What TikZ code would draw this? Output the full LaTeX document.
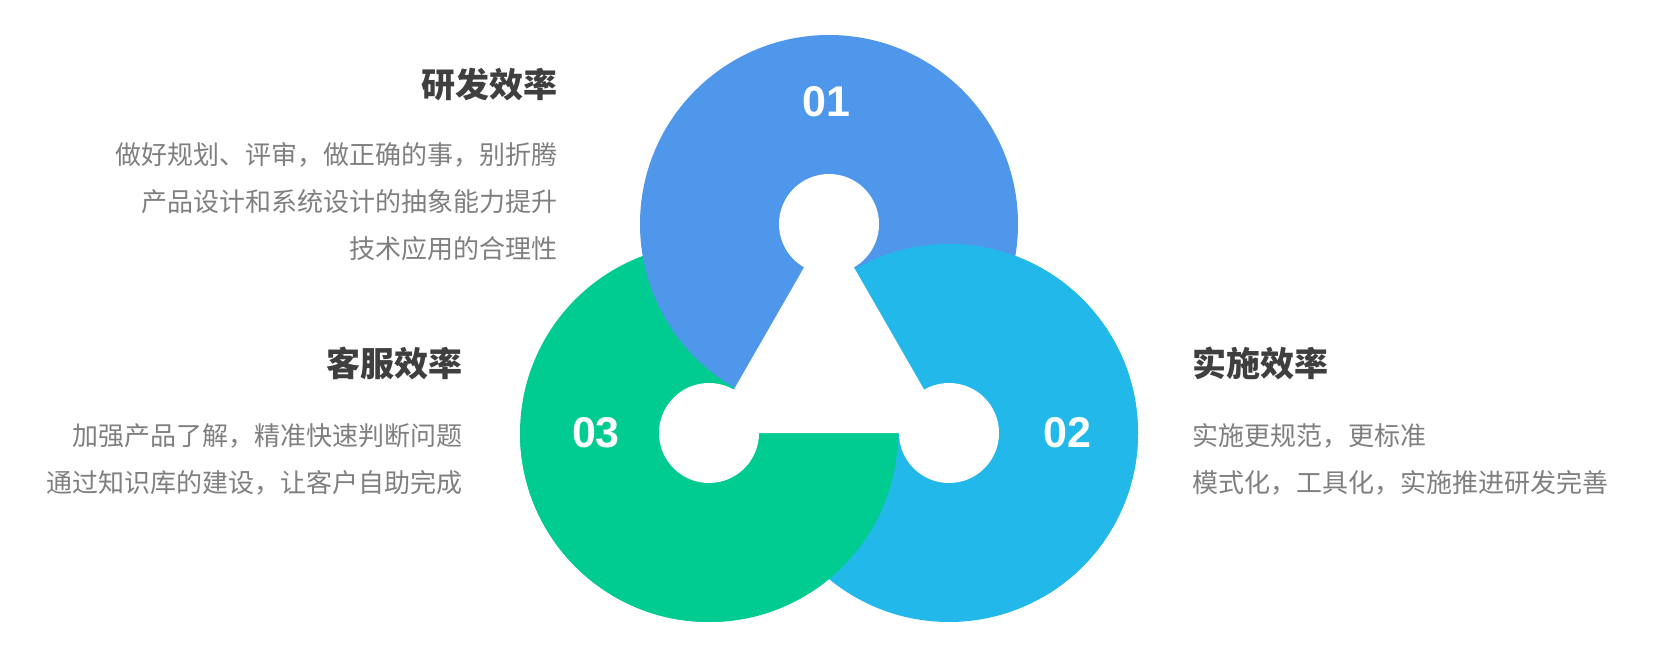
\documentclass[tikz,border=0pt]{standalone}
\usepackage{fontspec}
\setmainfont{Liberation Sans}
\newfontfamily\cjk{Noto Sans CJK SC}
\usetikzlibrary{calc}
\definecolor{blueone}{HTML}{4F97EA}
\definecolor{cyantwo}{HTML}{22B9EA}
\definecolor{greenthree}{HTML}{00CC91}
\definecolor{titlegray}{HTML}{3F3F3F}
\definecolor{textgray}{HTML}{7F7F7F}
\begin{document}
\begin{tikzpicture}[x=1pt, y=-1pt, num/.style={text=white, inner sep=0pt, font=\fontsize{43}{43}\selectfont\bfseries}, title/.style={text=titlegray, inner sep=0pt, font=\cjk\fontsize{34}{34}\selectfont\bfseries}, line/.style={text=textgray, inner sep=0pt, font=\cjk\fontsize{26}{26}\selectfont}]
		\useasboundingbox (0,0) rectangle (1676,660);
		\coordinate (A) at (829,224);
		\coordinate (B) at (949,433);
		\coordinate (C) at (709,433);
		
		\fill[greenthree] (C) circle (189);
		\fill[cyantwo] (B) circle (189);
		\fill[blueone] (A) circle (189);
		\begin{scope}
			\clip ($(A)!-2!(B)$) -- ($(A)!3!(B)$) -- (1800,1000) -- (1800,-400) -- cycle;
			\fill[cyantwo] (B) circle (189);
		\end{scope}
		\begin{scope}
			\clip (0,433) rectangle (1676,700);
			\fill[greenthree] (C) circle (189);
		\end{scope}
		\fill[white] (A) -- (B) -- (C) -- cycle;
		\foreach \c in {A,B,C}
			\fill[white] (\c) circle (50);
		
		\node[num] (n1) at (826,102) {01};
		\node[num] (n2) at (1067,433) {02};
		\node[num] (n3) at (596,433) {03};
		
		\node[title, anchor=east] (t1) at (558,85) {研发效率};
		\node[line, anchor=east] (t1a) at (558,155) {做好规划、评审，做正确的事，别折腾};
		\node[line, anchor=east] (t1b) at (558,202) {产品设计和系统设计的抽象能力提升};
		\node[line, anchor=east] (t1c) at (558,249) {技术应用的合理性};
		
		\node[title, anchor=east] (t3) at (463,363) {客服效率};
		\node[line, anchor=east] (t3a) at (463,436) {加强产品了解，精准快速判断问题};
		\node[line, anchor=east] (t3b) at (463,483) {通过知识库的建设，让客户自助完成};
		
		\node[title, anchor=west] (t2) at (1192,363) {实施效率};
		\node[line, anchor=west] (t2a) at (1192,436) {实施更规范，更标准};
		\node[line, anchor=west] (t2b) at (1192,483) {模式化，工具化，实施推进研发完善};
\end{tikzpicture}
\end{document}
